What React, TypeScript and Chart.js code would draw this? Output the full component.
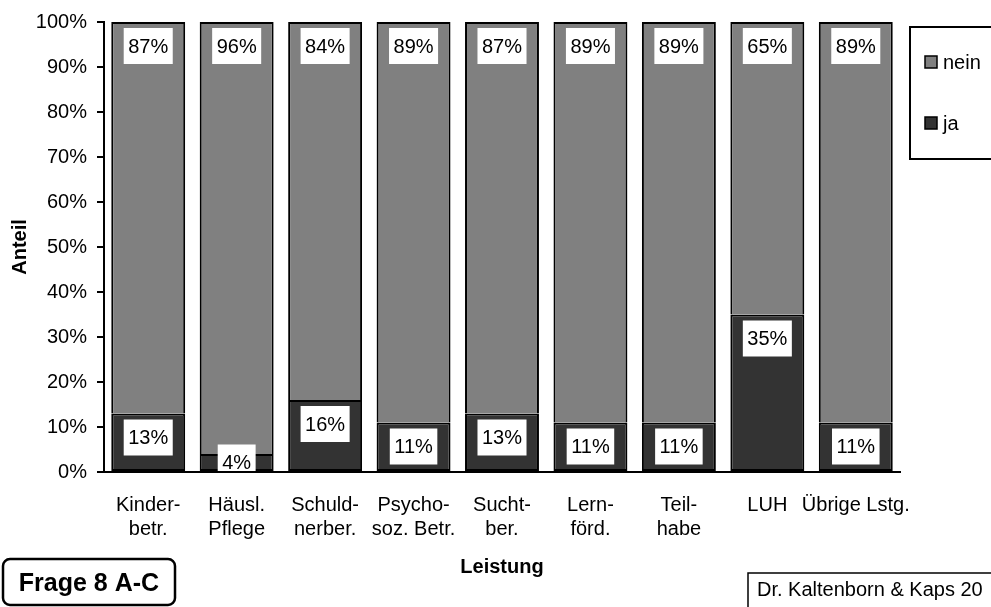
import React, { useEffect, useRef } from "react";
import { Chart, registerables } from "chart.js";

Chart.register(...registerables);

const categories: (string | string[])[] = [
  ["Kinder-", "betr."],
  ["Häusl.", "Pflege"],
  ["Schuld-", "nerber."],
  ["Psycho-", "soz. Betr."],
  ["Sucht-", "ber."],
  ["Lern-", "förd."],
  ["Teil-", "habe"],
  "LUH",
  "Übrige Lstg.",
];
const jaValues = [13, 4, 16, 11, 13, 11, 11, 35, 11];
const neinValues = [87, 96, 84, 89, 87, 89, 89, 65, 89];
const seriesNames = ["ja", "nein"];
const seriesColors = ["#333333", "#808080"];
const legendOrder = [1, 0];
const xTitle = "Leistung";
const yTitle = "Anteil";
const badgeText = "Frage 8 A-C";
const creditText = "Dr. Kaltenborn & Kaps 20";

const FONT = '"Liberation Sans", Arial, sans-serif';

const labelPlugin = {
  id: "boxLabels",
  afterDatasetsDraw(chart: any) {
    const { ctx, chartArea } = chart;
    ctx.save();
    ctx.beginPath();
    ctx.rect(
      chartArea.left,
      chartArea.top,
      chartArea.right - chartArea.left,
      chartArea.bottom - chartArea.top - 1
    );
    ctx.clip();
    ctx.font = `20px ${FONT}`;
    ctx.textAlign = "center";
    ctx.textBaseline = "middle";
    chart.data.datasets.forEach((ds: any, di: number) => {
      const meta = chart.getDatasetMeta(di);
      meta.data.forEach((el: any, i: number) => {
        const v = ds.data[i];
        const { x, y, base } = el.getProps(["x", "y", "base"], true);
        const top = Math.min(y, base);
        const bottom = Math.max(y, base);
        const cy = Math.min(top + 24, (top + bottom) / 2);
        const text = `${v}%`;
        const w = ctx.measureText(text).width + 9;
        const h = 36;
        ctx.fillStyle = "#ffffff";
        ctx.fillRect(x - w / 2, cy - h / 2, w, h);
        ctx.fillStyle = "#000000";
        ctx.fillText(text, x, cy + 1);
      });
    });
    ctx.restore();
  },
};

const decorPlugin = {
  id: "decor",
  afterDraw(chart: any) {
    const { ctx } = chart;
    ctx.save();
    // legend box
    ctx.strokeStyle = "#000";
    ctx.lineWidth = 2;
    ctx.strokeRect(910, 27, 110, 132);
    ctx.font = `20px ${FONT}`;
    ctx.textAlign = "left";
    ctx.textBaseline = "middle";
    legendOrder.forEach((di, k) => {
      const cy = 62 + k * 61;
      ctx.fillStyle = seriesColors[di];
      ctx.fillRect(925, cy - 6, 12, 12);
      ctx.lineWidth = 1.5;
      ctx.strokeStyle = "#000";
      ctx.strokeRect(925, cy - 6, 12, 12);
      ctx.fillStyle = "#000";
      ctx.fillText(seriesNames[di], 943, cy + 1);
    });
    // badge
    ctx.lineWidth = 2.5;
    ctx.strokeStyle = "#000";
    ctx.beginPath();
    (ctx as any).roundRect(3, 559, 172, 46, 7);
    ctx.stroke();
    ctx.fillStyle = "#000";
    ctx.font = `bold 25px ${FONT}`;
    ctx.textAlign = "center";
    ctx.fillText(badgeText, 89, 584);
    // credit
    ctx.lineWidth = 1.5;
    ctx.strokeRect(748, 573, 300, 60);
    ctx.font = `20px ${FONT}`;
    ctx.textAlign = "left";
    ctx.fillText(creditText, 757, 590);
    ctx.restore();
  },
};

export default function App() {
  const ref = useRef<HTMLCanvasElement | null>(null);
  useEffect(() => {
    document.body.style.margin = "0";
    Chart.defaults.font.family = FONT;
    const canvas = ref.current;
    if (!canvas) return;
    const chart = new Chart(canvas, {
      type: "bar",
      data: {
        labels: categories,
        datasets: [
          {
            label: seriesNames[0],
            data: jaValues,
            backgroundColor: seriesColors[0],
            borderColor: "#000",
            borderWidth: 2,
            borderSkipped: false,
            barPercentage: 0.836,
            categoryPercentage: 1,
          },
          {
            label: seriesNames[1],
            data: neinValues,
            backgroundColor: seriesColors[1],
            borderColor: "#000",
            borderWidth: 2,
            borderSkipped: "start",
            barPercentage: 0.836,
            categoryPercentage: 1,
          },
        ],
      },
      options: {
        animation: false,
        responsive: true,
        maintainAspectRatio: false,
        layout: { padding: { top: 22, right: 91, bottom: 0, left: 0 } },
        plugins: { legend: { display: false }, tooltip: { enabled: false } },
        scales: {
          x: {
            stacked: true,
            grid: { display: false, drawTicks: false },
            border: { display: true, color: "#000", width: 2 },
            ticks: {
              color: "#000",
              font: { size: 20 },
              padding: 21,
              autoSkip: false,
              maxRotation: 0,
              minRotation: 0,
            },
            title: {
              display: true,
              text: xTitle,
              color: "#000",
              font: { size: 20, weight: "bold" },
              padding: { top: 0, bottom: 28 },
            },
            afterFit: (s: any) => {
              s.height = 135;
            },
          },
          y: {
            stacked: true,
            min: 0,
            max: 100,
            ticks: {
              stepSize: 10,
              callback: (v: any) => `${v}%`,
              color: "#000",
              font: { size: 20 },
              padding: 10,
            },
            grid: {
              drawOnChartArea: false,
              drawTicks: true,
              tickLength: 7,
              color: "#000",
              lineWidth: 2,
            },
            border: { display: true, color: "#000", width: 2 },
            title: {
              display: true,
              text: yTitle,
              color: "#000",
              font: { size: 20, weight: "bold" },
              padding: { top: 8, bottom: 0 },
            },
            afterFit: (s: any) => {
              s.width = 104;
            },
          },
        },
      } as any,
      plugins: [labelPlugin, decorPlugin],
    });
    return () => chart.destroy();
  }, []);
  return (
    <div style={{ position: "relative", width: 991, height: 607, overflow: "hidden" }}>
      <canvas ref={ref} />
    </div>
  );
}
